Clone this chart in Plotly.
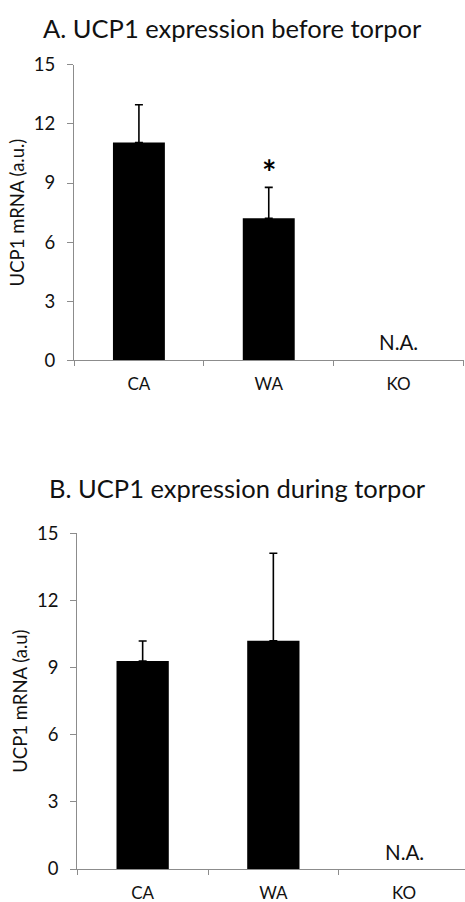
import plotly.graph_objects as go

categories = ["CA", "WA", "KO"]
before_values = [11.05, 7.21, None]
before_err = [1.92, 1.57, 0]
during_values = [9.29, 10.2, None]
during_err = [0.9, 3.91, 0]
y_ticks = [0, 3, 6, 9, 12, 15]

FONT = "Lato"
W, H = 465, 902

def py(px):
    return 1 - px / H

fig = go.Figure()

fig.add_trace(go.Bar(
    x=categories, y=before_values, xaxis="x", yaxis="y",
    marker=dict(color="black", line=dict(width=0)),
    error_y=dict(type="data", symmetric=False, array=before_err,
                 arrayminus=[0, 0, 0], color="black", thickness=1.6, width=4),
    showlegend=False,
))
fig.add_trace(go.Bar(
    x=categories, y=during_values, xaxis="x2", yaxis="y2",
    marker=dict(color="black", line=dict(width=0)),
    error_y=dict(type="data", symmetric=False, array=during_err,
                 arrayminus=[0, 0, 0], color="black", thickness=1.6, width=4),
    showlegend=False,
))

axis_line = "#8c8c8c"
xcommon = dict(type="category", categoryorder="array", categoryarray=categories,
               showline=True, linecolor=axis_line, linewidth=1.3,
               ticks="outside", tickson="boundaries", ticklen=5, tickcolor=axis_line,
               tickfont=dict(family=FONT, size=17, color="#111"), ticklabelstandoff=8,
               showgrid=False, zeroline=False, fixedrange=True, automargin=False)
ycommon = dict(range=[0, 15], tickvals=y_ticks, showline=True, linecolor=axis_line,
               linewidth=1.3, ticks="outside", ticklen=6, tickcolor=axis_line,
               tickfont=dict(family=FONT, size=18.5, color="#111"),
               showgrid=False, zeroline=False, ticklabelstandoff=8, automargin=False)

fig.update_layout(
    width=W, height=H, margin=dict(l=0, r=0, t=0, b=0),
    paper_bgcolor="white", plot_bgcolor="white",
    bargap=0.6,
    xaxis=dict(domain=[74 / W, 463.5 / W], range=[-0.5, 2.5], anchor="y", **xcommon),
    yaxis=dict(domain=[py(360.3), py(64.8)], anchor="x",
               title=dict(text="UCP1 mRNA (a.u.)", font=dict(family=FONT, size=18.5, color="#111"), standoff=4),
               **ycommon),
    xaxis2=dict(domain=[77.3 / W, 1.0], range=[-0.5, -0.5 + (W - 77.3) / 130.7], anchor="y2", **xcommon),
    yaxis2=dict(domain=[py(869), py(533.3)], anchor="x2",
                title=dict(text="UCP1 mRNA (a.u)", font=dict(family=FONT, size=18.5, color="#111"), standoff=4),
                **ycommon),
)

fig.add_annotation(text="A. UCP1 expression before torpor", xref="paper", yref="paper",
                   x=232 / W, y=py(28), showarrow=False, xanchor="center", yanchor="middle",
                   font=dict(family=FONT, size=25.5, color="#111"))
fig.add_annotation(text="B. UCP1 expression during torpor", xref="paper", yref="paper",
                   x=237.5 / W, y=py(488), showarrow=False, xanchor="center", yanchor="middle",
                   font=dict(family=FONT, size=25.5, color="#111"))

fig.add_annotation(text="<b>*</b>", xref="x", yref="y", x="WA", y=9.6, showarrow=False,
                   yanchor="middle", font=dict(family=FONT, size=34, color="black"))
fig.add_annotation(text="N.A.", xref="x", yref="y", x="KO", y=0.94, showarrow=False,
                   yanchor="middle", font=dict(family=FONT, size=20.5, color="#111"))
fig.add_annotation(text="N.A.", xref="x2", yref="y2", x="KO", y=0.76, showarrow=False,
                   yanchor="middle", font=dict(family=FONT, size=20.5, color="#111"))

fig.write_html("out.html")
